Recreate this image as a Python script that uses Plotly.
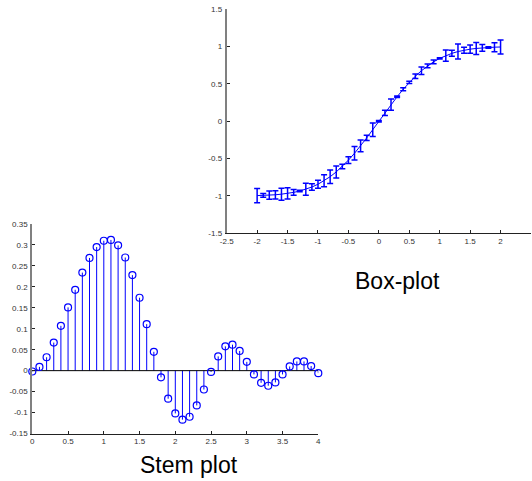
import plotly.graph_objects as go

# ---- Box-plot (error bar) data ----
eb_x = [-2.0, -1.9, -1.8, -1.7, -1.6, -1.5, -1.4, -1.3, -1.2, -1.1, -1.0,
        -0.9, -0.8, -0.7, -0.6, -0.5, -0.4, -0.3, -0.2, -0.1, 0.0,
        0.1, 0.2, 0.3, 0.4, 0.5, 0.6, 0.7, 0.8, 0.9, 1.0,
        1.1, 1.2, 1.3, 1.4, 1.5, 1.6, 1.7, 1.8, 1.9, 2.0]
eb_y = [-0.995, -0.993, -0.989, -0.984, -0.976, -0.966, -0.952, -0.934, -0.910, -0.880, -0.843,
        -0.797, -0.742, -0.678, -0.604, -0.521, -0.428, -0.329, -0.223, -0.112, 0.0,
        0.112, 0.223, 0.329, 0.428, 0.521, 0.604, 0.678, 0.742, 0.797, 0.843,
        0.880, 0.910, 0.934, 0.952, 0.966, 0.976, 0.984, 0.989, 0.993, 0.995]
eb_err = [0.095, 0.025, 0.055, 0.055, 0.08, 0.075, 0.04, 0.01, 0.08, 0.045, 0.055,
          0.08, 0.09, 0.08, 0.03, 0.045, 0.09, 0.08, 0.035, 0.09, 0.01,
          0.035, 0.075, 0.01, 0.02, 0.015, 0.03, 0.05, 0.025, 0.025, 0.008,
          0.075, 0.04, 0.1, 0.04, 0.055, 0.08, 0.045, 0.01, 0.06, 0.095]

# ---- Stem plot data ----
st_x = [0.0, 0.1, 0.2, 0.3, 0.4, 0.5, 0.6, 0.7, 0.8, 0.9, 1.0,
        1.1, 1.2, 1.3, 1.4, 1.5, 1.6, 1.7, 1.8, 1.9, 2.0,
        2.1, 2.2, 2.3, 2.4, 2.5, 2.6, 2.7, 2.8, 2.9, 3.0,
        3.1, 3.2, 3.3, 3.4, 3.5, 3.6, 3.7, 3.8, 3.9, 4.0]
st_y = [-0.002, 0.009, 0.032, 0.067, 0.107, 0.151, 0.193, 0.234, 0.269, 0.295, 0.310,
        0.312, 0.299, 0.270, 0.228, 0.174, 0.111, 0.045, -0.016, -0.067, -0.102,
        -0.117, -0.110, -0.083, -0.045, -0.003, 0.034, 0.058, 0.062, 0.047, 0.021,
        -0.009, -0.029, -0.036, -0.028, -0.009, 0.010, 0.022, 0.022, 0.011, -0.006]

top_xticks = [-2.5, -2, -1.5, -1, -0.5, 0, 0.5, 1, 1.5, 2, 2.5]
top_yticks = [-1.5, -1, -0.5, 0, 0.5, 1, 1.5]
st_xticks = [0, 0.5, 1, 1.5, 2, 2.5, 3, 3.5, 4]
st_yticks = [-0.15, -0.1, -0.05, 0, 0.05, 0.1, 0.15, 0.2, 0.25, 0.3, 0.35]

BLUE = "#0000ff"
W, H = 532, 481

fig = go.Figure()

fig.add_trace(go.Scatter(
    x=eb_x, y=eb_y, mode="lines",
    line=dict(color=BLUE, width=1),
    error_y=dict(type="data", array=eb_err, visible=True,
                 color=BLUE, thickness=1.5, width=3),
    xaxis="x", yaxis="y", showlegend=False))

# stems
sx, sy = [], []
for xv, yv in zip(st_x, st_y):
    sx += [xv, xv, None]
    sy += [0, yv, None]
fig.add_trace(go.Scatter(x=sx, y=sy, mode="lines",
                         line=dict(color=BLUE, width=1),
                         xaxis="x2", yaxis="y2", showlegend=False))
# baseline
fig.add_trace(go.Scatter(x=[st_x[0], st_x[-1]], y=[0, 0], mode="lines",
                         line=dict(color="black", width=1),
                         xaxis="x2", yaxis="y2", showlegend=False))
fig.add_trace(go.Scatter(x=st_x, y=st_y, mode="markers",
                         marker=dict(symbol="circle-open", size=7, color=BLUE,
                                     line=dict(color=BLUE, width=1.2)),
                         xaxis="x2", yaxis="y2", showlegend=False, cliponaxis=False))

tickfont = dict(family="Arial, Liberation Sans, sans-serif", size=8, color="#333333")

def xa(domain, rng, ticks, anchor):
    return dict(domain=domain, range=rng, tickvals=ticks,
                ticktext=[f"{t:g}" for t in ticks], anchor=anchor,
                showgrid=False, zeroline=False, showline=True,
                linecolor="#222222", linewidth=1, ticks="inside",
                ticklen=3, tickcolor="#222222", tickfont=tickfont,
                ticklabelstandoff=0, automargin=False, fixedrange=True)

def ya(domain, rng, ticks, anchor):
    return dict(domain=domain, range=rng, tickvals=ticks,
                ticktext=[f"{t:g}" for t in ticks], anchor=anchor,
                showgrid=False, zeroline=False, showline=True,
                linecolor="#808080", linewidth=2, ticks="inside",
                ticklen=3, tickcolor="#222222", tickfont=tickfont,
                ticklabelstandoff=1, automargin=False, fixedrange=True)

fig.update_layout(
    width=W, height=H, autosize=False,
    margin=dict(l=0, r=0, t=0, b=0, autoexpand=False),
    paper_bgcolor="white", plot_bgcolor="rgba(0,0,0,0)",
    xaxis=xa([226.7 / W, 531 / W], [-2.5, 2.5], top_xticks, "y"),
    yaxis=ya([1 - 233.3 / H, 1 - 9.3 / H], [-1.5, 1.5], top_yticks, "x"),
    xaxis2=xa([32.3 / W, 318.3 / W], [0, 4], st_xticks, "y2"),
    yaxis2=ya([1 - 433.5 / H, 1 - 224 / H], [-0.15, 0.35], st_yticks, "x2"),
    annotations=[
        dict(text="Box-plot", x=397.5 / W, y=1 - 281 / H, xref="paper", yref="paper",
             showarrow=False, xanchor="center", yanchor="middle",
             font=dict(family="Arial, Liberation Sans, sans-serif", size=23, color="black")),
        dict(text="Stem plot", x=189 / W, y=1 - 465 / H, xref="paper", yref="paper",
             showarrow=False, xanchor="center", yanchor="middle",
             font=dict(family="Arial, Liberation Sans, sans-serif", size=23, color="black")),
    ],
)

fig.write_html("out.html")
